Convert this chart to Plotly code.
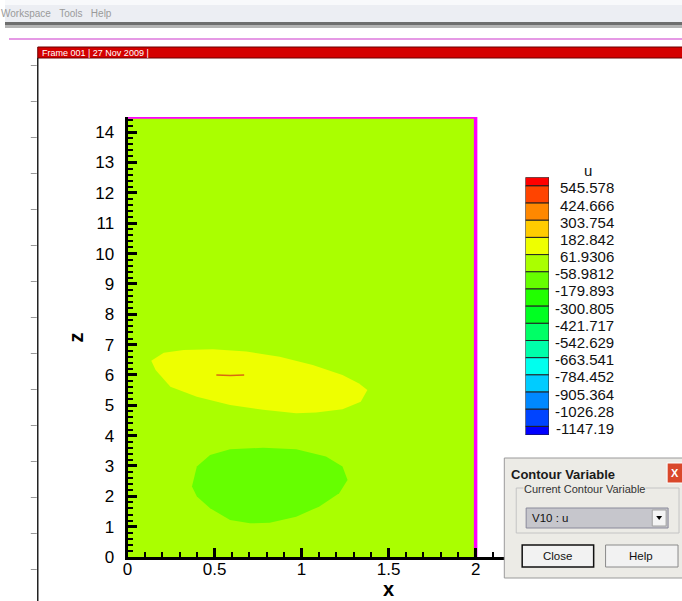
import plotly.graph_objects as go

W, H = 682, 601          # reference picture size (coordinates used for layout)
FIG_H = 611              # figure height that renders to 601 px in the capture

# ---------------- data ----------------
LEVELS = [545.578, 424.666, 303.754, 182.842, 61.9306, -58.9812, -179.893,
          -300.805, -421.717, -542.629, -663.541, -784.452, -905.364,
          -1026.28, -1147.19]
LEVEL_LABELS = ["545.578", "424.666", "303.754", "182.842", "61.9306",
                "-58.9812", "-179.893", "-300.805", "-421.717", "-542.629",
                "-663.541", "-784.452", "-905.364", "-1026.28", "-1147.19"]
BAND_COLORS = ["#FF0000", "#FF4400", "#FF8800", "#FFCC00", "#EEFF00",
               "#AAFF00", "#66FF00", "#22FF00", "#00FF22", "#00FF66",
               "#00FFAA", "#00FFEE", "#00CCFF", "#0088FF", "#0044FF",
               "#0000FF"]

DOMAIN_X = [0, 2, 2, 0, 0]
DOMAIN_Z = [0, 0, 14.5, 14.5, 0]
BORDER_X = [0, 2, 2]
BORDER_Z = [14.5, 14.5, 0]

YELLOW_X = [0.136, 0.208, 0.322, 0.49, 0.683, 0.874, 1.064, 1.235, 1.33,
            1.378, 1.34, 1.235, 1.083, 0.969, 0.779, 0.589, 0.398, 0.246,
            0.161, 0.136]
YELLOW_Z = [6.47, 6.73, 6.82, 6.85, 6.77, 6.60, 6.33, 6.0, 5.72, 5.50, 5.12,
            4.87, 4.76, 4.74, 4.85, 5.01, 5.28, 5.61, 6.16, 6.47]

GREEN_X = [0.37, 0.398, 0.474, 0.589, 0.779, 0.969, 1.14, 1.235, 1.264,
           1.216, 1.10, 0.969, 0.817, 0.703, 0.589, 0.474, 0.398, 0.37]
GREEN_Z = [2.32, 2.98, 3.36, 3.55, 3.60, 3.55, 3.31, 2.98, 2.54, 2.10, 1.66,
           1.33, 1.13, 1.11, 1.22, 1.61, 1.99, 2.32]

STREAK_X = [0.51, 0.59, 0.67]
STREAK_Z = [6.0, 5.98, 6.0]

X_TICKS = [0, 0.5, 1, 1.5, 2]
X_TICK_LABELS = ["0", "0.5", "1", "1.5", "2"]
X_RANGE = [0, 3]
Z_RANGE = [0, 14.5]

FONT = "Liberation Sans"


def X(px):
    return px / W


def Y(py):
    return 1 - py / H


fig = go.Figure()

# ---------------- contour field ----------------
fig.add_trace(go.Scatter(x=DOMAIN_X, y=DOMAIN_Z, mode="lines", fill="toself",
                         fillcolor=BAND_COLORS[5], line=dict(width=0),
                         hoverinfo="skip", showlegend=False))
fig.add_trace(go.Scatter(x=YELLOW_X, y=YELLOW_Z, mode="lines", fill="toself",
                         fillcolor=BAND_COLORS[4], line=dict(width=0),
                         hoverinfo="skip", showlegend=False))
fig.add_trace(go.Scatter(x=GREEN_X, y=GREEN_Z, mode="lines", fill="toself",
                         fillcolor=BAND_COLORS[6], line=dict(width=0),
                         hoverinfo="skip", showlegend=False))
fig.add_trace(go.Scatter(x=STREAK_X, y=STREAK_Z, mode="lines",
                         line=dict(width=1.5, color="#d86a10"),
                         hoverinfo="skip", showlegend=False))
fig.add_trace(go.Scatter(x=BORDER_X, y=BORDER_Z, mode="lines",
                         line=dict(width=3.5, color="#FF00FF"),
                         hoverinfo="skip", showlegend=False))

# ---------------- colour legend ----------------
step = LEVELS[0] - LEVELS[1]
edges = [LEVELS[0] + step / 2] + LEVELS + [LEVELS[-1] - step / 2]
bases = [edges[i + 1] for i in range(len(BAND_COLORS))]
heights = [edges[i] - edges[i + 1] for i in range(len(BAND_COLORS))]
fig.add_trace(go.Bar(x=[0] * len(BAND_COLORS), y=heights, base=bases,
                     width=1, marker=dict(color=BAND_COLORS,
                                          line=dict(color="#222", width=1)),
                     xaxis="x2", yaxis="y2", hoverinfo="skip",
                     showlegend=False))

annotations = []
for val, lab in zip(LEVELS, LEVEL_LABELS):
    annotations.append(dict(x=X(616), xref="paper", y=val, yref="y2",
                            text=lab, showarrow=False, xanchor="right",
                            yanchor="middle", yshift=-2,
                            font=dict(family=FONT, size=15, color="#111")))
annotations.append(dict(x=X(587), xref="paper", y=Y(171), yref="paper",
                        text="u", showarrow=False, xanchor="center",
                        yanchor="middle",
                        font=dict(family=FONT, size=15, color="#111")))

# axis titles
annotations.append(dict(x=1.5, xref="x", y=Y(589), yref="paper", text="<b>x</b>",
                        showarrow=False, xanchor="center", yanchor="middle",
                        font=dict(family=FONT, size=20, color="#000")))
annotations.append(dict(x=X(72), xref="paper", y=7.25, yref="y", text="<b>z</b>",
                        showarrow=False, xanchor="center", yanchor="middle",
                        textangle=-90,
                        font=dict(family=FONT, size=20, color="#000")))

shapes = []

# ---------------- application chrome ----------------
shapes.append(dict(type="rect", xref="paper", yref="paper", x0=X(0), x1=X(W),
                   y0=Y(0), y1=Y(22), fillcolor="#eceef3", line=dict(width=0)))
shapes.append(dict(type="rect", xref="paper", yref="paper", x0=X(0), x1=X(W),
                   y0=Y(0), y1=Y(5), fillcolor="#f8f9fb", line=dict(width=0)))
shapes.append(dict(type="rect", xref="paper", yref="paper", x0=X(0), x1=X(W),
                   y0=Y(22), y1=Y(25), fillcolor="#6e6e6e", line=dict(width=0)))
shapes.append(dict(type="rect", xref="paper", yref="paper", x0=X(0), x1=X(W),
                   y0=Y(25), y1=Y(28), fillcolor="#b4b4b4", line=dict(width=0)))
shapes.append(dict(type="line", xref="paper", yref="paper", x0=X(4), x1=X(W),
                   y0=Y(39), y1=Y(39), line=dict(color="#dd77dd", width=1.5)))
annotations.append(dict(x=X(-6), xref="paper", y=Y(14), yref="paper",
                        text="Workspace&nbsp;&nbsp;&nbsp;Tools&nbsp;&nbsp;&nbsp;Help",
                        showarrow=False, xanchor="left", yanchor="middle",
                        font=dict(family=FONT, size=10, color="#9a9a9a")))

# frame header
shapes.append(dict(type="rect", xref="paper", yref="paper", x0=X(33), x1=X(W + 2),
                   y0=Y(47), y1=Y(58), fillcolor="#d40000",
                   line=dict(color="#6a0000", width=1)))
annotations.append(dict(x=X(35), xref="paper", y=Y(52.5), yref="paper",
                        text="Frame 001 &#124; 27 Nov 2009 &#124;",
                        showarrow=False, xanchor="left", yanchor="middle",
                        font=dict(family=FONT, size=9, color="#ffffff")))
shapes.append(dict(type="line", xref="paper", yref="paper", x0=X(33), x1=X(33),
                   y0=Y(58), y1=Y(H + 2), line=dict(color="#222", width=1.5)))
for k in range(15):
    yy = 65.5 + 36 * k
    shapes.append(dict(type="line", xref="paper", yref="paper", x0=X(26),
                       x1=X(32), y0=Y(yy), y1=Y(yy),
                       line=dict(color="#999", width=1)))

# ---------------- dialog box ----------------
shapes.append(dict(type="rect", xref="paper", yref="paper", x0=X(503), x1=X(W + 3),
                   y0=Y(458), y1=Y(578), fillcolor="#ecebe6",
                   line=dict(color="#9a9a9a", width=1), layer="above"))
shapes.append(dict(type="rect", xref="paper", yref="paper", x0=X(667), x1=X(W + 3),
                   y0=Y(463), y1=Y(483), fillcolor="#d9482b",
                   line=dict(color="#ffffff", width=1), layer="above"))
annotations.append(dict(x=X(675), xref="paper", y=Y(473), yref="paper",
                        text="<b>X</b>", showarrow=False, xanchor="center",
                        yanchor="middle",
                        font=dict(family=FONT, size=11, color="#ffffff")))
annotations.append(dict(x=X(508), xref="paper", y=Y(474), yref="paper",
                        text="<b>Contour Variable</b>", showarrow=False,
                        xanchor="left", yanchor="middle",
                        font=dict(family=FONT, size=13, color="#1a1a1a")))
shapes.append(dict(type="rect", xref="paper", yref="paper", x0=X(515), x1=X(679),
                   y0=Y(488), y1=Y(533), fillcolor="rgba(0,0,0,0)",
                   line=dict(color="#c4c4c4", width=1), layer="above"))
annotations.append(dict(x=X(522), xref="paper", y=Y(489), yref="paper",
                        text="Current Contour Variable", showarrow=False,
                        xanchor="left", yanchor="middle", bgcolor="#ecebe6",
                        borderpad=0,
                        font=dict(family=FONT, size=11, color="#333")))
shapes.append(dict(type="rect", xref="paper", yref="paper", x0=X(525), x1=X(668),
                   y0=Y(508), y1=Y(528), fillcolor="#c6c6cc",
                   line=dict(color="#8a8a9a", width=1), layer="above"))
annotations.append(dict(x=X(529), xref="paper", y=Y(518), yref="paper",
                        text="V10 : u", showarrow=False, xanchor="left",
                        yanchor="middle",
                        font=dict(family=FONT, size=11.5, color="#111")))
shapes.append(dict(type="rect", xref="paper", yref="paper", x0=X(652), x1=X(666),
                   y0=Y(510), y1=Y(526), fillcolor="#f4f4f4",
                   line=dict(color="#a0a0a0", width=1), layer="above"))
shapes.append(dict(type="path", xref="paper", yref="paper",
                   path=f"M {X(656)},{Y(516)} L {X(662)},{Y(516)} L {X(659)},{Y(520)} Z",
                   fillcolor="#000", line=dict(width=0), layer="above"))
shapes.append(dict(type="rect", xref="paper", yref="paper", x0=X(521), x1=X(593),
                   y0=Y(545), y1=Y(567), fillcolor="#f2f2f2",
                   line=dict(color="#111", width=1.5), layer="above"))
annotations.append(dict(x=X(557), xref="paper", y=Y(556), yref="paper",
                        text="Close", showarrow=False, xanchor="center",
                        yanchor="middle",
                        font=dict(family=FONT, size=11.5, color="#111")))
shapes.append(dict(type="rect", xref="paper", yref="paper", x0=X(605), x1=X(678),
                   y0=Y(545), y1=Y(567), fillcolor="#f2f2f2",
                   line=dict(color="#8a8a8a", width=1), layer="above"))
annotations.append(dict(x=X(641), xref="paper", y=Y(556), yref="paper",
                        text="Help", showarrow=False, xanchor="center",
                        yanchor="middle",
                        font=dict(family=FONT, size=11.5, color="#111")))

axis_common = dict(showline=True, linewidth=3, linecolor="#000", mirror=False,
                   ticks="inside", ticklen=9, tickwidth=3, tickcolor="#000",
                   showgrid=False, zeroline=False,
                   tickfont=dict(family=FONT, size=17, color="#000"))

fig.update_layout(
    width=W, height=FIG_H, autosize=False,
    margin=dict(l=0, r=0, t=0, b=0),
    paper_bgcolor="#ffffff", plot_bgcolor="rgba(0,0,0,0)",
    showlegend=False,
    xaxis=dict(range=X_RANGE, domain=[X(123.5), X(649.4)], anchor="y",
               tickvals=X_TICKS, ticktext=X_TICK_LABELS,
               ticklabelstandoff=-5,
               minor=dict(ticks="inside", ticklen=5, tickwidth=1.5,
                          dtick=0.1, tickcolor="#000"),
               **axis_common),
    yaxis=dict(range=Z_RANGE, domain=[Y(557), Y(117)], anchor="x",
               dtick=1, tick0=0, ticklabelstandoff=7,
               minor=dict(ticks="inside", ticklen=5, tickwidth=1.5,
                          dtick=0.2, tickcolor="#000"),
               **axis_common),
    xaxis2=dict(domain=[X(524.3), X(548)], range=[-0.5, 0.5], visible=False,
                anchor="y2", fixedrange=True),
    yaxis2=dict(domain=[Y(435), Y(177.3)], range=[edges[-1], edges[0]],
                visible=False, anchor="x2", fixedrange=True),
    shapes=shapes,
    annotations=annotations,
)

PAGE_FIX = (
    "var de=document.documentElement,b=document.body;"
    "de.style.margin='0';de.style.padding='0';de.style.overflow='hidden';"
    "b.style.margin='0';b.style.padding='0';b.style.overflow='hidden';"
    "var t=document.getElementById('js-plotly-tester');"
    "if(t){t.style.display='none';}"
)

fig.write_html("out.html", config={"displayModeBar": False},
               post_script=PAGE_FIX)
